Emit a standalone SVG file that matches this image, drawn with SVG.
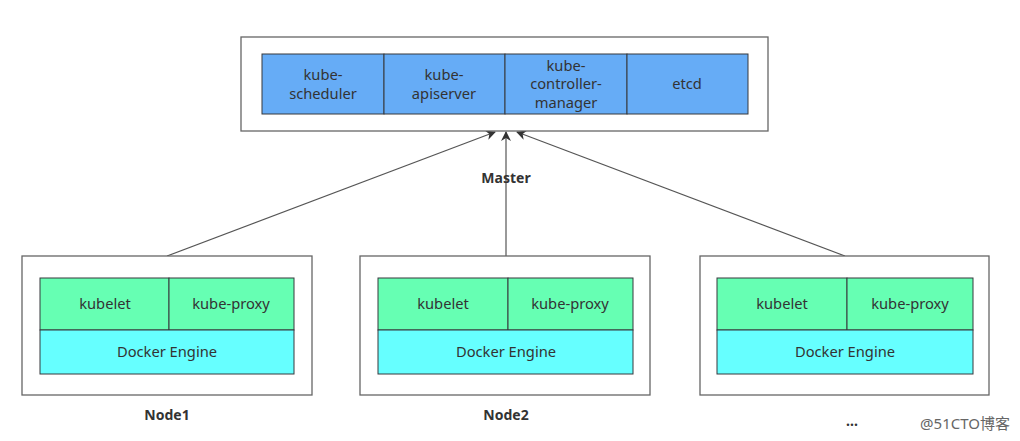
<svg xmlns="http://www.w3.org/2000/svg" width="1020" height="441" viewBox="0 0 1020 441">
<defs>
<marker id="arr" viewBox="0 0 10 10" refX="9" refY="5" markerWidth="10" markerHeight="10" markerUnits="userSpaceOnUse" orient="auto">
<path d="M0,0 L10,5 L0,10 L3,5 Z" fill="#333"/>
</marker>
<style>
.outer{fill:#fff;stroke:#666;stroke-width:1.3}
.blue{fill:#66ACF6;stroke:#36393d;stroke-width:1}
.green{fill:#66FFB3;stroke:#36393d;stroke-width:1}
.cyan{fill:#66FFFF;stroke:#36393d;stroke-width:1}
.t{font-family:"Noto Sans","Open Sans",sans-serif;font-size:14.7px;fill:#333;text-anchor:middle}
.lbl{font-family:"Noto Sans","Open Sans",sans-serif;font-size:14px;font-weight:bold;fill:#333;text-anchor:middle}
.conn{stroke:#555;stroke-width:1.2;fill:none}
</style>
</defs>
<rect width="1020" height="441" fill="#fff"/>
<g id="connectors">
<line class="conn" x1="167" y1="256" x2="495" y2="132" marker-end="url(#arr)"/>
<line class="conn" x1="506" y1="256" x2="506" y2="132" marker-end="url(#arr)"/>
<line class="conn" x1="845" y1="256" x2="517" y2="132" marker-end="url(#arr)"/>
</g>
<g id="master">
<rect class="outer" x="241" y="37" width="527" height="94"/>
<rect class="blue" x="262" y="54" width="122" height="60"/>
<rect class="blue" x="384" y="54" width="121" height="60"/>
<rect class="blue" x="505" y="54" width="122" height="60"/>
<rect class="blue" x="627" y="54" width="121" height="60"/>
<text class="t" x="323" y="80">kube-</text>
<text class="t" x="323" y="99">scheduler</text>
<text class="t" x="444" y="80">kube-</text>
<text class="t" x="444" y="99">apiserver</text>
<text class="t" x="566" y="71">kube-</text>
<text class="t" x="566" y="89">controller-</text>
<text class="t" x="566" y="108">manager</text>
<text class="t" x="687" y="89">etcd</text>
<text class="lbl" x="506" y="183">Master</text>
</g>
<g id="node1">
<rect class="outer" x="22" y="256" width="290" height="139"/>
<rect class="green" x="40" y="278" width="129" height="52"/>
<rect class="green" x="169" y="278" width="125" height="52"/>
<rect class="cyan" x="40" y="330" width="254" height="44"/>
<text class="t" x="105" y="309">kubelet</text>
<text class="t" x="231" y="309">kube-proxy</text>
<text class="t" x="167" y="357">Docker Engine</text>
<text class="lbl" x="167" y="420">Node1</text>
</g>
<g id="node2">
<rect class="outer" x="360" y="256" width="290" height="139"/>
<rect class="green" x="378" y="278" width="130" height="52"/>
<rect class="green" x="508" y="278" width="125" height="52"/>
<rect class="cyan" x="378" y="330" width="255" height="44"/>
<text class="t" x="443" y="309">kubelet</text>
<text class="t" x="570" y="309">kube-proxy</text>
<text class="t" x="506" y="357">Docker Engine</text>
<text class="lbl" x="506" y="420">Node2</text>
</g>
<g id="node3">
<rect class="outer" x="700" y="256" width="289" height="139"/>
<rect class="green" x="717" y="278" width="130" height="52"/>
<rect class="green" x="847" y="278" width="126" height="52"/>
<rect class="cyan" x="717" y="330" width="256" height="44"/>
<text class="t" x="782" y="309">kubelet</text>
<text class="t" x="910" y="309">kube-proxy</text>
<text class="t" x="845" y="357">Docker Engine</text>
<text class="lbl" x="852" y="426">...</text>
</g>
<text x="1010" y="429" font-family="'Noto Sans','Noto Sans CJK SC',sans-serif" font-size="15" fill="#666" text-anchor="end">@51CTO博客</text>
</svg>
